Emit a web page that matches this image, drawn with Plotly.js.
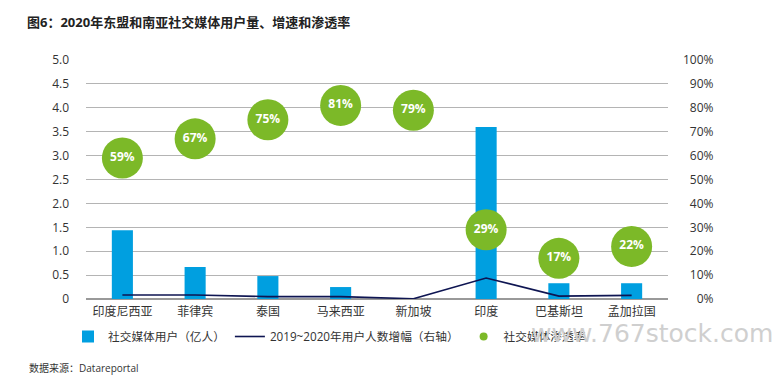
<!DOCTYPE html>
<html><head><meta charset="utf-8">
<script src="https://cdn.plot.ly/plotly-3.0.1.min.js"></script>
<style>body{margin:0;background:#fff}#c{width:772px;height:388px}</style>
</head><body><div id="c"></div>
<script>
const categories = ['印度尼西亚','菲律宾','泰国','马来西亚','新加坡','印度','巴基斯坦','孟加拉国'];
const users = [1.44, 0.67, 0.48, 0.25, 0, 3.6, 0.33, 0.33];            // 亿人
const growth = [0.017, 0.017, 0.010, 0.010, 0.001, 0.088, 0.012, 0.015]; // right axis
const penetration = [0.59, 0.67, 0.75, 0.81, 0.79, 0.29, 0.17, 0.22];
const leftTickVals = [0,0.5,1,1.5,2,2.5,3,3.5,4,4.5,5];
const leftTickText = ['0','0.5','1.0','1.5','2.0','2.5','3.0','3.5','4.0','4.5','5.0'];
const rightTickVals = [0,0.1,0.2,0.3,0.4,0.5,0.6,0.7,0.8,0.9,1];
const rightTickText = ['0%','10%','20%','30%','40%','50%','60%','70%','80%','90%','100%'];
const F = '"Open Sans","Noto Sans CJK SC",sans-serif';
const pad = s => '\u2007'.repeat(4 - s.length) + s;

const traces = [
  {type:'bar', x:categories, y:users, name:'社交媒体用户（亿人）', marker:{color:'#009FE0'}, yaxis:'y'},
  {type:'scatter', mode:'lines', x:categories, y:growth, name:'2019~2020年用户人数增幅（右轴）', line:{color:'#0E1552', width:1.6}, yaxis:'y2'},
  {type:'scatter', mode:'markers+text', x:categories, y:penetration, showlegend:false,
   text:penetration.map(v=>Math.round(v*100)+'%'), textposition:'middle center',
   textfont:{color:'#fff', size:12, family:F, weight:'bold'},
   marker:{color:'#7CB928', size:41}, yaxis:'y2', cliponaxis:false},
  {type:'scatter', mode:'markers', x:[null], y:[null], name:'社交媒体渗透率', marker:{color:'#7CB928', size:8}, yaxis:'y2'}
];

const W = 772, H = 388, L = 86, R = 104, T = 60, B = 89;
const pw = W - L - R, ph = H - T - B;
const px = x => (x - L) / pw, py = y => (H - B - y) / ph;

const layout = {
  width:W, height:H,
  margin:{l:L, r:R, t:T, b:B, autoexpand:false},
  paper_bgcolor:'#fff', plot_bgcolor:'#fff',
  font:{family:F, color:'#333', size:12},
  title:{text:'<b>图6：2020年东盟和南亚社交媒体用户量、增速和渗透率</b>', x:27/W, xanchor:'left', y:1-22/H, yanchor:'middle',
         font:{family:F, size:13, color:'#222'}},
  bargap:0.71,
  xaxis:{range:[-0.5, categories.length-0.5], showgrid:false, zeroline:false, showline:false, ticks:'', tickfont:{size:12, color:'#333'}, ticklabelstandoff:4, automargin:false},
  yaxis:{range:[0,5], tickvals:leftTickVals, ticktext:leftTickText, showgrid:true, gridcolor:'#b4b4b4', gridwidth:1, automargin:false,
         zeroline:true, zerolinecolor:'#999', zerolinewidth:2, ticks:'', ticklabelstandoff:16, tickfont:{size:12, color:'#333'}},
  yaxis2:{overlaying:'y', side:'right', range:[0,1], tickvals:rightTickVals, ticktext:rightTickText.map(pad), showgrid:false, zeroline:false,
          automargin:false, ticks:'', ticklabelstandoff:14, tickfont:{size:12, color:'#333'}},
  legend:{orientation:'h', x:px(68), xanchor:'left', y:py(322), yanchor:'top', font:{size:11.7, color:'#333'}, itemwidth:30, traceorder:'normal', bgcolor:'rgba(0,0,0,0)'},
  showlegend:true,
  annotations:[
    {text:'数据来源：Datareportal', xref:'paper', yref:'paper', x:px(27), y:py(368), xanchor:'left', yanchor:'middle', showarrow:false, font:{size:10, color:'#333'}},
    {text:'www.767stock.com', xref:'paper', yref:'paper', x:px(775), y:py(333), xanchor:'right', yanchor:'middle', showarrow:false, font:{size:25, color:'#cfcfcf', family:'"DejaVu Sans",sans-serif'}}
  ]
};
Plotly.newPlot('c', traces, layout, {displayModeBar:false, staticPlot:true});
</script></body></html>
